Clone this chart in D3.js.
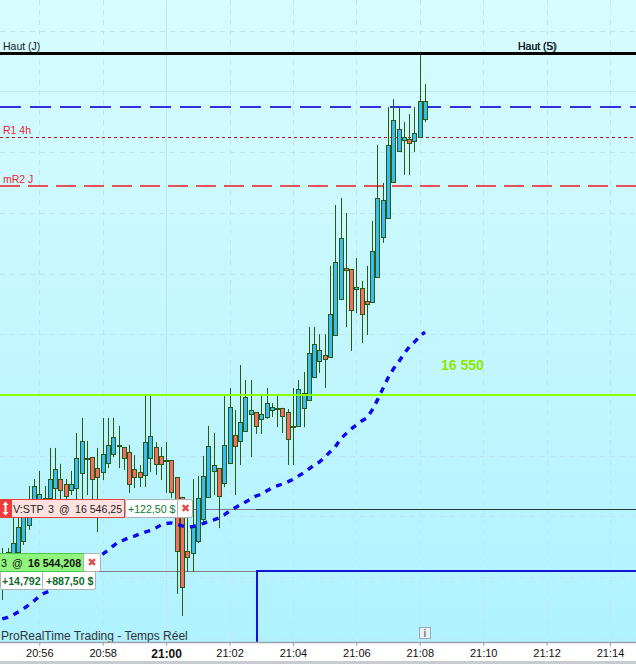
<!DOCTYPE html>
<html>
<head>
<meta charset="utf-8">
<script src="https://cdn.jsdelivr.net/npm/d3@7"></script>
<style>
  html, body { margin: 0; padding: 0; background: #fff; overflow: hidden; }
  svg { display: block; }
  text { font-family: "Liberation Sans", Arial, sans-serif; }
</style>
</head>
<body>
<svg id="chart"></svg>
<script>
const width = 636;
const height = 664;

// prices are stored above this base (16 544.21 -> 44.21)
const priceBase = 16500;

// 10 second candles, first one is 20:54:50
const firstCandle = new Date(2023, 0, 1, 20, 54, 50);

const opens = [
  44.41, 44.61, 44.84, 44.87, 45.23, 45.75, 46.24, 46.41, 46.62, 46.63, 46.96,
  47.25, 47.09, 46.90, 46.96, 47.45, 47.94, 47.97, 47.61, 47.48, 47.78, 48.07,
  48.35, 48.30, 48.14, 47.58, 47.48, 47.39, 47.94, 48.30, 48.01, 47.89, 47.88,
  47.32, 46.67, 44.90, 44.84, 45.23, 45.95, 46.67, 47.52, 47.61, 47.12, 47.78,
  48.69, 48.50, 48.82, 49.38, 49.44, 49.22, 49.28, 49.51, 49.58, 49.58, 49.44,
  49.00, 48.99, 49.58, 49.84, 50.59, 51.11, 51.31, 51.24, 51.96, 53.14, 54.15,
  54.12, 53.46, 53.50, 53.07, 53.04, 53.86, 55.16, 55.78, 56.96, 57.97, 58.33,
  58.37, 58.30, 58.43, 59.02
];
const highs = [
  45.00, 45.00, 46.02, 46.02, 46.41, 47.03, 47.25, 47.52, 47.03, 48.27, 48.27,
  47.75, 47.25, 47.52, 48.76, 49.25, 48.50, 47.97, 48.27, 49.25, 49.25, 49.25,
  48.99, 48.30, 48.37, 48.04, 47.71, 49.97, 49.97, 48.46, 48.30, 48.46, 47.88,
  47.32, 46.67, 46.00, 47.25, 47.35, 48.01, 48.99, 48.76, 47.61, 49.97, 50.23,
  49.51, 50.98, 50.49, 50.49, 49.44, 49.97, 50.23, 49.74, 49.97, 49.58, 49.54,
  50.23, 50.49, 50.75, 52.22, 52.22, 51.99, 51.99, 54.22, 56.21, 56.44, 55.95,
  54.12, 54.48, 53.73, 54.22, 55.69, 58.17, 56.93, 59.41, 59.67, 59.41, 58.92,
  59.18, 59.41, 61.11, 60.16
];
const lows = [
  43.30, 44.44, 44.61, 44.61, 45.10, 45.59, 46.08, 46.24, 46.40, 46.47, 46.57,
  46.37, 46.47, 46.73, 46.57, 46.57, 46.73, 46.41, 45.52, 47.22, 47.61, 47.97,
  47.61, 47.55, 46.80, 46.96, 46.99, 46.99, 47.48, 47.39, 47.22, 46.80, 46.63,
  43.50, 42.78, 44.22, 44.22, 45.16, 45.85, 46.67, 46.73, 45.65, 46.99, 47.78,
  46.73, 47.71, 48.82, 47.97, 48.73, 48.73, 49.22, 49.28, 48.95, 48.76, 47.71,
  47.71, 48.99, 48.95, 49.84, 50.59, 50.72, 50.23, 51.24, 51.96, 53.14, 52.22,
  51.44, 52.68, 51.70, 51.96, 53.04, 53.86, 54.97, 55.78, 56.96, 57.97, 57.19,
  57.19, 57.94, 58.43, 58.92
];
const closes = [
  44.74, 44.87, 45.16, 45.69, 46.18, 46.41, 47.03, 46.76, 46.65, 47.25, 47.58,
  46.90, 46.70, 47.09, 47.94, 48.50, 47.92, 47.25, 47.32, 48.07, 48.37, 48.63,
  48.33, 47.94, 47.09, 47.32, 47.32, 48.46, 48.66, 47.75, 47.75, 47.87, 46.83,
  44.90, 43.73, 44.71, 45.69, 46.63, 47.35, 48.33, 47.71, 46.70, 48.37, 49.61,
  48.33, 49.12, 49.93, 49.51, 48.99, 49.38, 49.74, 49.61, 49.56, 49.31, 48.56,
  48.98, 50.20, 50.07, 51.37, 51.67, 51.47, 51.18, 52.65, 54.35, 55.13, 54.08,
  52.78, 53.53, 52.65, 52.97, 54.71, 56.44, 56.37, 58.17, 58.99, 58.69, 58.43,
  58.24, 58.56, 59.61, 59.61
];

// dotted moving average, one value per candle from the first one
const maValues = [
  42.68, 42.73, 42.81, 42.91, 43.01, 43.14, 43.27, 43.43, 43.53, 43.59, 43.76,
  43.89, 44.02, 44.12, 44.25, 44.35, 44.44, 44.58, 44.71, 44.80, 44.93, 45.07,
  45.20, 45.26, 45.34, 45.39, 45.46, 45.52, 45.57, 45.65, 45.75, 45.80, 45.82,
  45.78, 45.72, 45.69, 45.70, 45.75, 45.80, 45.87, 45.92, 45.98, 46.08, 46.21,
  46.31, 46.41, 46.50, 46.60, 46.70, 46.76, 46.86, 46.96, 47.03, 47.09, 47.16,
  47.24, 47.35, 47.45, 47.58, 47.71, 47.81, 47.96, 48.14, 48.30, 48.56, 48.73,
  48.89, 49.02, 49.15, 49.25, 49.51, 49.84, 50.20, 50.56, 50.85, 51.08, 51.34,
  51.57, 51.73, 51.93, 52.05
];

const gridLevels = [61.90, 57.94, 55.95, 53.95, 51.98, 50.00, 48.01, 46.03, 44.05, 42.06];
const solidGridLevel = 59.92;

const haut = 61.18;
const blueLevel = 59.40;
const r1Level = 58.43;
const mr2Level = 56.83;
const greenLevel = 50.00;
const stopLevel = 46.27;
const entryLevel = 44.26;

const tickTimes = [
  [20, 56], [20, 58], [21, 0], [21, 2], [21, 4], [21, 6], [21, 8], [21, 10], [21, 12], [21, 14]
].map(d => new Date(2023, 0, 1, d[0], d[1]));

const candles = opens.map((o, i) => ({
  t: new Date(firstCandle.getTime() + i * 10000),
  o: o, h: highs[i], l: lows[i], c: closes[i]
}));

const x = d3.scaleTime()
  .domain([tickTimes[0], tickTimes[tickTimes.length - 1]])
  .range([39.3, 610]);

// 30.6 px per point, 16 550 sits on y = 395
const y = d3.scaleLinear()
  .domain([50, 50 - 247 / 30.6])
  .range([395, 642]);

const crisp = v => Math.round(v) + 0.5;

const svg = d3.select("#chart")
  .attr("width", width)
  .attr("height", height)
  .attr("viewBox", [0, 0, width, height]);

const defs = svg.append("defs");
const grad = defs.append("linearGradient")
  .attr("id", "bg")
  .attr("x1", 0).attr("x2", 0).attr("y1", 0).attr("y2", 1);
grad.append("stop").attr("offset", "0%").attr("stop-color", "#d8fcff");
grad.append("stop").attr("offset", "100%").attr("stop-color", "#b0f2ff");

svg.append("rect")
  .attr("width", width).attr("height", 642)
  .attr("fill", "url(#bg)");

// grid
const grid = svg.append("g").attr("fill", "none").attr("stroke", "#bfe6ec");
grid.selectAll("line.h")
  .data(gridLevels)
  .join("line")
  .attr("class", "h")
  .attr("x1", 0).attr("x2", width)
  .attr("y1", d => crisp(y(d)))
  .attr("y2", d => crisp(y(d)))
  .attr("stroke-dasharray", "5,5");
grid.append("line")
  .attr("x1", 0).attr("x2", width)
  .attr("y1", crisp(y(solidGridLevel)))
  .attr("y2", crisp(y(solidGridLevel)));
grid.selectAll("line.v")
  .data(tickTimes)
  .join("line")
  .attr("class", "v")
  .attr("x1", d => crisp(x(d)))
  .attr("x2", d => crisp(x(d)))
  .attr("y1", 0).attr("y2", 642)
  .attr("stroke-dasharray", d => d.getHours() === 21 && d.getMinutes() === 0 ? null : "5,5");

function hline(level, color, w, dash, x1) {
  const py = w % 2 === 1 ? crisp(y(level)) : Math.round(y(level));
  svg.append("line")
    .attr("x1", x1 || 0).attr("x2", width)
    .attr("y1", py).attr("y2", py)
    .attr("stroke", color)
    .attr("stroke-width", w)
    .attr("stroke-dasharray", dash);
}

hline(haut, "#000", 3);
hline(blueLevel, "#3030e0", 2, "21,9");
hline(r1Level, "#b41818", 1, "3,3");
hline(mr2Level, "#f01c1c", 1.5, "20,8");

// order lines sit behind the candles
hline(stopLevel, "#808080", 1, null, 190);
hline(entryLevel, "#808080", 1, null, 90);
hline(stopLevel, "#1c3c30", 1, null, 256);
svg.append("path")
  .attr("d", d3.line()([[257, 642], [257, Math.round(y(entryLevel))], [width, Math.round(y(entryLevel))]]))
  .attr("fill", "none")
  .attr("stroke", "#1414d8")
  .attr("stroke-width", 2);

// candles
const candle = svg.append("g")
  .selectAll("g")
  .data(candles)
  .join("g")
  .attr("transform", d => `translate(${crisp(x(d.t))},0)`);

candle.append("line")
  .attr("y1", d => y(d.h))
  .attr("y2", d => y(d.l))
  .attr("stroke", "#285a10")
  .attr("stroke-width", 1);

candle.append("rect")
  .attr("x", -2)
  .attr("width", 4)
  .attr("y", d => crisp(y(Math.max(d.o, d.c))))
  .attr("height", d => Math.max(1, Math.round(Math.abs(y(d.o) - y(d.c)))))
  .attr("fill", d => d.c >= d.o ? "#3abcf2" : "#f76c62")
  .attr("stroke", "#285a10")
  .attr("stroke-width", 1);

// moving average over the candles
const maLine = d3.line()
  .x((d, i) => x(candles[i].t))
  .y(d => y(d));

svg.append("path")
  .datum(maValues)
  .attr("d", maLine)
  .attr("fill", "none")
  .attr("stroke", "#0808f0")
  .attr("stroke-width", 3.4)
  .attr("stroke-dasharray", "6,6");

hline(greenLevel, "#8cff00", 2);

// level labels
function label(px, py, txt, color, size, weight) {
  return svg.append("text")
    .attr("x", px).attr("y", py)
    .attr("fill", color)
    .attr("font-size", size || 10.5)
    .attr("font-weight", weight || "normal")
    .text(txt);
}

label(3, 50, "Haut (J)", "#101820");
label(518, 50, "Haut (S)", "#101820");
label(518, 50, "Haut (5)", "#101820");
label(3, 134, "R1 4h", "#f01c2c");
label(3, 183, "mR2 J", "#f01c2c");
label(441, 370, "16 550", "#8ee800", 14, "bold");

// order tickets
function box(bx, by, w, h, fill, stroke, r) {
  svg.append("rect")
    .attr("x", bx + 0.5).attr("y", by + 0.5)
    .attr("width", w).attr("height", h)
    .attr("rx", r || 0)
    .attr("fill", fill).attr("stroke", stroke);
}

function cross(cx, cy) {
  svg.append("text")
    .attr("x", cx).attr("y", cy + 4)
    .attr("text-anchor", "middle")
    .attr("fill", "#e05050")
    .attr("font-size", 11)
    .attr("font-weight", "bold")
    .style("font-family", "DejaVu Sans")
    .text("\u2716");
}

box(125, 499, 67, 18, "#fff", "#b0b0b0", 2);
box(177, 499, 15, 18, "#fff", "#b0b0b0", 2);
box(0, 499, 11, 18, "#ee3c3c", "#ee3c3c");
box(11, 499, 113, 18, "#ffe2e0", "#ee3c3c");
svg.append("path")
  .attr("d", "M5.5 501.5 L8.5 505 L6.5 505 L6.5 512 L8.5 512 L5.5 515.5 L2.5 512 L4.5 512 L4.5 505 L2.5 505 Z")
  .attr("fill", "#fff");
label(13, 512.5, "V:STP", "#222", 10.8);
label(48, 512.5, "3", "#222", 10.8);
label(59, 512.5, "@", "#222", 10.6);
label(75, 512.5, "16 546,25", "#222", 10.6);
label(128, 512.5, "+122,50 $", "#0c7c34", 10.6);
cross(185.5, 508);

box(0, 571, 95, 18, "#fff", "#b0b0b0", 2);
box(42, 571, 53, 18, "#fff", "#b0b0b0", 2);
box(-1, 553, 84, 18, "#90f57c", "#50c850");
box(83, 553, 17, 18, "#fff", "#b0b0b0", 2);
label(1, 566.5, "3", "#111", 10.8);
label(12, 566.5, "@", "#111", 10.6);
label(28, 566.5, "16 544,208", "#111", 10.6, "bold");
cross(92, 562);
label(2, 584.5, "+14,792", "#0c6c2c", 10.6, "bold");
label(46, 584.5, "+887,50 $", "#0c6c2c", 10.6, "bold");

label(1, 640, "ProRealTime Trading - Temps R\u00e9el", "#2c3438", 12);

// info square
box(419, 627, 11, 11, "#e8f2f4", "#9aa8ae");
svg.append("text")
  .attr("x", 425).attr("y", 636.5)
  .attr("text-anchor", "middle")
  .attr("fill", "#6c7880")
  .attr("font-size", 10)
  .attr("font-weight", "bold")
  .text("i");

// time axis
svg.append("rect")
  .attr("y", 642).attr("width", width).attr("height", 22)
  .attr("fill", "#fff");
svg.append("rect")
  .attr("y", 661).attr("width", width).attr("height", 3)
  .attr("fill", "#c8ccd0");

const axis = d3.axisBottom(x)
  .tickValues(tickTimes)
  .tickSize(4)
  .tickPadding(3)
  .tickFormat(d3.timeFormat("%H:%M"));

const axisG = svg.append("g")
  .attr("transform", "translate(0,642)")
  .call(axis);

axisG.select(".domain").remove();
axisG.selectAll(".tick line").attr("stroke", "#9aa4aa");
axisG.selectAll(".tick text")
  .attr("fill", "#111")
  .style("font-family", "Liberation Sans")
  .attr("font-size", d => d.getHours() === 21 && d.getMinutes() === 0 ? 12 : 11)
  .attr("font-weight", d => d.getHours() === 21 && d.getMinutes() === 0 ? "bold" : "normal");

svg.append("line")
  .attr("x1", 0).attr("x2", width)
  .attr("y1", 642.5).attr("y2", 642.5)
  .attr("stroke", "#9aa4aa")
  .attr("stroke-width", 1.5);
</script>
</body>
</html>
